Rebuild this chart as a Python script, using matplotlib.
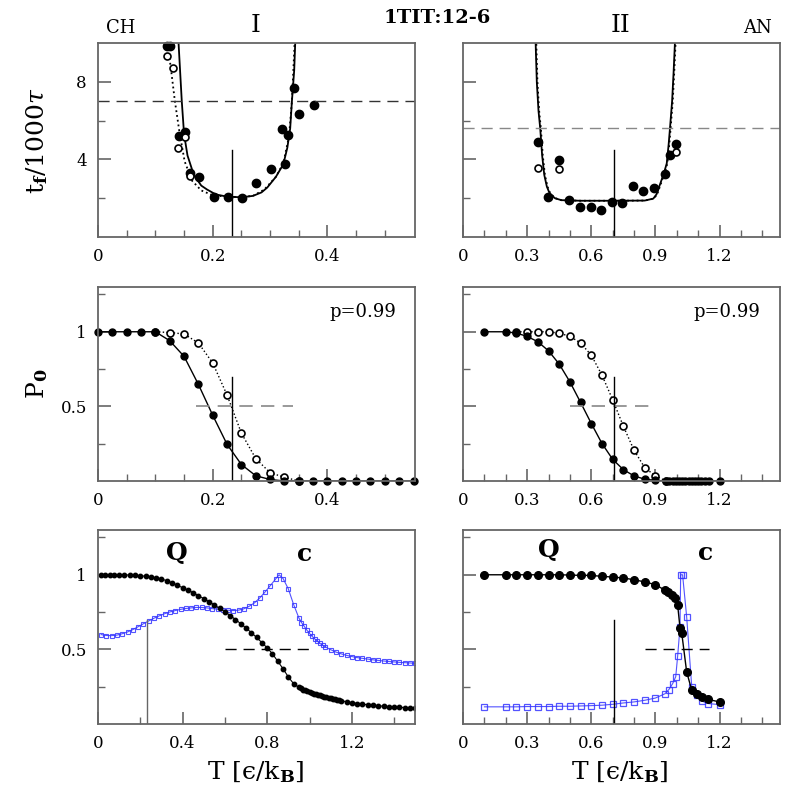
import matplotlib
matplotlib.use("Agg")
import matplotlib.pyplot as plt

plt.rcParams["font.family"] = ["DejaVu Serif"]
plt.rcParams["mathtext.fontset"] = "dejavuserif"

# ---- top row: folding time t_f / 1000 tau ----
tf1_full_T = [0.120, 0.125, 0.141, 0.151, 0.161, 0.176, 0.202, 0.227, 0.251, 0.276,
              0.301, 0.321, 0.326, 0.332, 0.341, 0.351, 0.377]
tf1_full = [9.85, 9.85, 5.22, 5.40, 3.28, 3.10, 2.08, 2.08, 2.00, 2.78,
            3.49, 5.55, 3.75, 5.26, 7.68, 6.34, 6.80]
tf1_open_T = [0.120, 0.131, 0.140, 0.151, 0.160]
tf1_open = [9.33, 8.70, 4.60, 5.14, 3.16]
tf1_fit_T = [0.140, 0.146, 0.150, 0.156, 0.167, 0.180, 0.190, 0.205, 0.225, 0.250,
             0.270, 0.285, 0.295, 0.310, 0.323, 0.330, 0.335, 0.338, 0.342, 0.344]
tf1_fit = [10.2, 7.0, 5.3, 4.2, 3.2, 2.65, 2.45, 2.2, 2.08, 2.05,
           2.12, 2.3, 2.55, 3.1, 3.75, 4.6, 5.6, 7.0, 8.6, 10.2]
tf1_dot_T = [0.120, 0.127, 0.134, 0.142, 0.151, 0.164, 0.180, 0.200, 0.225, 0.250,
             0.270, 0.290, 0.310, 0.323, 0.333, 0.338, 0.343]
tf1_dot = [10.2, 8.7, 7.0, 5.4, 3.9, 2.9, 2.4, 2.15, 2.08, 2.06,
           2.12, 2.45, 3.1, 3.8, 5.2, 7.0, 10.2]
tf1_ref = 7.0

tf2_full_T = [0.352, 0.399, 0.449, 0.497, 0.547, 0.597, 0.646, 0.696, 0.745, 0.794,
              0.844, 0.895, 0.946, 0.969, 0.997]
tf2_full = [4.91, 2.08, 3.97, 1.91, 1.53, 1.53, 1.39, 1.80, 1.73, 2.63,
            2.39, 2.54, 3.23, 4.21, 4.78]
tf2_open_T = [0.349, 0.449, 0.997]
tf2_open = [3.57, 3.50, 4.40]
tf2_fit_T = [0.339, 0.345, 0.353, 0.361, 0.370, 0.380, 0.392, 0.405, 0.430, 0.460,
             0.550, 0.700, 0.850, 0.890, 0.905, 0.921, 0.940, 0.953, 0.962, 0.968,
             0.978, 0.985, 0.992]
tf2_fit = [10.2, 8.0, 6.5, 5.6, 4.2, 3.2, 2.6, 2.25, 2.0, 1.9,
           1.87, 1.87, 1.88, 1.98, 2.2, 2.7, 3.3, 3.8, 4.8, 5.6,
           7.0, 8.5, 10.2]
tf2_dot_T = [0.342, 0.348, 0.356, 0.364, 0.373, 0.383, 0.395, 0.408, 0.432, 0.460,
             0.550, 0.700, 0.850, 0.892, 0.908, 0.924, 0.943, 0.956, 0.965, 0.971,
             0.981, 0.988, 0.995]
tf2_dot = [10.2, 8.0, 6.5, 5.6, 4.2, 3.2, 2.6, 2.25, 2.0, 1.9,
           1.87, 1.87, 1.88, 1.98, 2.2, 2.7, 3.3, 3.8, 4.8, 5.6,
           7.0, 8.5, 10.2]
tf2_ref = 5.6

# ---- middle row: P0 ----
p1_T = [0.0, 0.025, 0.05, 0.075, 0.1, 0.125, 0.15, 0.175, 0.2, 0.225, 0.25, 0.275,
        0.3, 0.325, 0.35, 0.375, 0.4, 0.425, 0.45, 0.475, 0.5, 0.525, 0.55]
p1_full = [1.0, 1.0, 1.0, 1.0, 1.0, 0.94, 0.835, 0.647, 0.44, 0.245, 0.11, 0.035,
           0.01, 0.0, 0.0, 0.0, 0.0, 0.0, 0.0, 0.0, 0.0, 0.0, 0.0]
p1_open_T = [0.1, 0.125, 0.15, 0.175, 0.2, 0.225, 0.25, 0.275, 0.3, 0.325, 0.35]
p1_open = [1.0, 0.995, 0.985, 0.925, 0.79, 0.575, 0.32, 0.15, 0.055, 0.025, 0.0]

p2_T = [0.1, 0.2, 0.25, 0.3, 0.35, 0.4, 0.45, 0.5, 0.55, 0.6, 0.65, 0.7, 0.75, 0.8,
        0.85, 0.9, 0.95, 0.965, 0.98, 0.995, 1.01, 1.025, 1.04, 1.055, 1.07, 1.085,
        1.1, 1.115, 1.13, 1.15, 1.2]
p2_full = [1.0, 1.0, 0.991, 0.969, 0.933, 0.872, 0.783, 0.664, 0.526, 0.385, 0.251,
           0.145, 0.076, 0.034, 0.012, 0.004, 0.0, 0.0, 0.0, 0.0, 0.0, 0.0, 0.0, 0.0,
           0.0, 0.0, 0.0, 0.0, 0.0, 0.0, 0.0]
p2_open_T = [0.25, 0.3, 0.35, 0.4, 0.45, 0.5, 0.55, 0.6, 0.65, 0.7, 0.75, 0.8, 0.85, 0.9, 0.95]
p2_open = [1.0, 1.0, 1.0, 1.0, 0.99, 0.97, 0.924, 0.843, 0.709, 0.544, 0.367, 0.206,
           0.089, 0.034, 0.0]

# ---- bottom row: Q and specific heat c ----
q1_T = [0.015, 0.035, 0.055, 0.075, 0.1, 0.125, 0.15, 0.175, 0.2, 0.225, 0.25, 0.275, 0.3,
        0.325, 0.35, 0.375, 0.4, 0.425, 0.45, 0.475, 0.5, 0.525, 0.55, 0.575, 0.6,
        0.625, 0.65, 0.675, 0.7, 0.725, 0.75, 0.775, 0.8, 0.825, 0.85, 0.875, 0.9,
        0.925, 0.95, 0.96, 0.97, 0.98, 0.99, 1.0, 1.01, 1.02, 1.03, 1.04, 1.05, 1.06,
        1.07, 1.08, 1.09, 1.1, 1.11, 1.12, 1.13, 1.14, 1.15, 1.175, 1.2, 1.225, 1.25,
        1.275, 1.3, 1.325, 1.35, 1.375, 1.4, 1.425, 1.45, 1.475, 1.5]
q1 = [1.0, 1.0, 1.0, 1.0, 1.0, 0.999, 0.998, 0.996, 0.993, 0.99, 0.985, 0.98, 0.972,
      0.96, 0.946, 0.93, 0.913, 0.897, 0.88, 0.86, 0.84, 0.82, 0.798, 0.775, 0.752,
      0.727, 0.70, 0.672, 0.643, 0.612, 0.58, 0.545, 0.51, 0.47, 0.42, 0.37, 0.315,
      0.27, 0.245, 0.238, 0.231, 0.225, 0.219, 0.214, 0.209, 0.204, 0.199, 0.195,
      0.191, 0.187, 0.183, 0.179, 0.175, 0.172, 0.168, 0.165, 0.162, 0.159, 0.156,
      0.149, 0.143, 0.137, 0.133, 0.129, 0.125, 0.122, 0.119, 0.116, 0.114, 0.112,
      0.110, 0.108, 0.106]
c1_T = [0.015, 0.04, 0.065, 0.09, 0.115, 0.14, 0.165, 0.19, 0.215, 0.24, 0.265, 0.29,
        0.315, 0.34, 0.365, 0.39, 0.415, 0.44, 0.465, 0.49, 0.515, 0.54, 0.565, 0.59,
        0.615, 0.64, 0.665, 0.69, 0.715, 0.74, 0.765, 0.79, 0.815, 0.84, 0.856, 0.875,
        0.9, 0.925, 0.95, 0.962, 0.975, 0.987, 1.0, 1.012, 1.025, 1.037, 1.05, 1.062,
        1.075, 1.1, 1.125, 1.15, 1.175, 1.2, 1.225, 1.25, 1.275, 1.3, 1.325, 1.35,
        1.375, 1.4, 1.425, 1.45, 1.475, 1.5]
c1 = [0.599, 0.593, 0.592, 0.596, 0.605, 0.617, 0.633, 0.652, 0.672, 0.691, 0.709,
      0.725, 0.739, 0.751, 0.76, 0.768, 0.774, 0.778, 0.781, 0.781, 0.778, 0.773,
      0.769, 0.765, 0.762, 0.76, 0.763, 0.772, 0.789, 0.812, 0.845, 0.885, 0.928,
      0.972, 1.0, 0.975, 0.905, 0.8, 0.71, 0.68, 0.655, 0.63, 0.607, 0.588, 0.57,
      0.555, 0.54, 0.528, 0.517, 0.498, 0.482, 0.47, 0.46, 0.452, 0.445, 0.44, 0.435,
      0.43, 0.426, 0.422, 0.419, 0.416, 0.413, 0.411, 0.409, 0.407]

q2_T = [0.1, 0.2, 0.25, 0.3, 0.35, 0.4, 0.45, 0.5, 0.55, 0.6, 0.65, 0.7, 0.75, 0.8,
        0.85, 0.9, 0.945, 0.96, 0.976, 0.992, 1.004, 1.015, 1.023, 1.046, 1.07, 1.093,
        1.12, 1.145, 1.2]
q2 = [1.0, 1.0, 1.0, 1.0, 1.0, 1.0, 1.0, 0.998, 0.996, 0.996, 0.989, 0.985, 0.978,
      0.967, 0.952, 0.934, 0.896, 0.885, 0.863, 0.841, 0.797, 0.643, 0.61, 0.35,
      0.225, 0.203, 0.181, 0.165, 0.148]
c2_T = [0.1, 0.2, 0.25, 0.3, 0.35, 0.4, 0.45, 0.5, 0.55, 0.6, 0.65, 0.7, 0.75, 0.8,
        0.85, 0.9, 0.945, 0.963, 0.98, 0.995, 1.004, 1.015, 1.018, 1.027, 1.046, 1.07,
        1.093, 1.12, 1.145, 1.2]
c2 = [0.115, 0.115, 0.115, 0.117, 0.117, 0.117, 0.119, 0.119, 0.121, 0.123, 0.126,
      0.132, 0.141, 0.148, 0.159, 0.174, 0.203, 0.231, 0.269, 0.317, 0.456, 0.65,
      1.0, 1.0, 0.72, 0.247, 0.192, 0.152, 0.137, 0.13]

T_trans = [0.233, 0.708]
p_text = "p=0.99"

left_xt = [0, 0.2, 0.4]
left_xtl = ["0", "0.2", "0.4"]
bl_xt = [0, 0.4, 0.8, 1.2]
bl_xtl = ["0", "0.4", "0.8", "1.2"]
right_xt = [0, 0.3, 0.6, 0.9, 1.2]
right_xtl = ["0", "0.3", "0.6", "0.9", "1.2"]

BLUE = "#3535ff"
FRAME = "#666666"


def style_axes(ax, xlim, ylim, xt, xtl, xminor, yt, ytl, yminor, show_y):
    ax.set_xlim(*xlim)
    ax.set_ylim(*ylim)
    ax.set_xticks(xt)
    ax.set_xticklabels(xtl)
    ax.set_xticks(xminor, minor=True)
    ax.set_yticks(yt)
    ax.set_yticklabels(ytl if show_y else [])
    ax.set_yticks(yminor, minor=True)
    ax.tick_params(which="both", direction="in", top=False, right=False,
                   color=FRAME, labelsize=12, pad=8)
    ax.tick_params(which="major", length=9, width=1.2)
    ax.tick_params(which="minor", length=5, width=1.0)
    for s in ax.spines.values():
        s.set_color(FRAME)
        s.set_linewidth(1.3)


def main() -> None:
    fig = plt.figure(figsize=(7.97, 7.97), dpi=100)
    cols = [0.123, 0.581]
    rows = [0.7026, 0.3965, 0.0916]
    w, h = 0.398, 0.2434
    axs = [[fig.add_axes([c, r, w, h]) for c in cols] for r in rows]

    # top row
    ax = axs[0][0]
    ax.plot(tf1_fit_T, tf1_fit, color="black", lw=1.3)
    ax.plot(tf1_dot_T, tf1_dot, color="black", lw=1.3, ls=":")
    ax.plot(tf1_full_T, tf1_full, "o", color="black", ms=6, clip_on=False)
    ax.plot(tf1_open_T, tf1_open, "o", mfc="white", mec="black", ms=5, mew=1.2, clip_on=False)
    ax.axhline(tf1_ref, color="#333333", lw=1, dashes=(8, 5))
    ax.plot([T_trans[0], T_trans[0]], [0, 4.5], color="black", lw=1)
    style_axes(ax, (0, 0.553), (0, 10), left_xt, left_xtl,
               [0.05, 0.1, 0.15, 0.25, 0.3, 0.35, 0.45, 0.5], [4, 8], ["4", "8"], [2, 6], True)

    ax = axs[0][1]
    ax.plot(tf2_fit_T, tf2_fit, color="black", lw=1.3)
    ax.plot(tf2_dot_T, tf2_dot, color="black", lw=1.3, ls=":")
    ax.plot(tf2_full_T, tf2_full, "o", color="black", ms=6, clip_on=False)
    ax.plot(tf2_open_T, tf2_open, "o", mfc="white", mec="black", ms=5, mew=1.2, clip_on=False)
    ax.axhline(tf2_ref, color="#888888", lw=1, dashes=(8, 5))
    ax.plot([T_trans[1], T_trans[1]], [0, 4.5], color="black", lw=1)
    style_axes(ax, (0, 1.484), (0, 10), right_xt, right_xtl,
               [0.1, 0.2, 0.4, 0.5, 0.7, 0.8, 1.0, 1.1, 1.3, 1.4], [4, 8], [], [2, 6], False)

    # middle row
    ax = axs[1][0]
    ax.plot(p1_open_T, p1_open, color="black", lw=1, ls=":")
    ax.plot(p1_T, p1_full, color="black", lw=1)
    ax.plot(p1_open_T, p1_open, "o", mfc="white", mec="black", ms=5, mew=1.2, clip_on=False)
    ax.plot(p1_T, p1_full, "o", color="black", ms=5, clip_on=False)
    ax.plot([0.17, 0.34], [0.5, 0.5], color="#888888", lw=1.2, dashes=(8, 5))
    ax.plot([T_trans[0], T_trans[0]], [0, 0.7], color="black", lw=1)
    ax.text(0.836, 0.87, p_text, transform=ax.transAxes, ha="center", va="center", fontsize=13)
    style_axes(ax, (0, 0.553), (0, 1.3), left_xt, left_xtl,
               [0.05, 0.1, 0.15, 0.25, 0.3, 0.35, 0.45, 0.5], [0.5, 1], ["0.5", "1"],
               [0.25, 0.75, 1.25], True)

    ax = axs[1][1]
    ax.plot(p2_open_T, p2_open, color="black", lw=1, ls=":")
    ax.plot(p2_T, p2_full, color="black", lw=1)
    ax.plot(p2_open_T, p2_open, "o", mfc="white", mec="black", ms=5, mew=1.2, clip_on=False)
    ax.plot(p2_T, p2_full, "o", color="black", ms=5, clip_on=False)
    ax.plot([0.5, 0.9], [0.5, 0.5], color="#888888", lw=1.2, dashes=(8, 5))
    ax.plot([T_trans[1], T_trans[1]], [0, 0.7], color="black", lw=1)
    ax.text(0.833, 0.87, p_text, transform=ax.transAxes, ha="center", va="center", fontsize=13)
    style_axes(ax, (0, 1.484), (0, 1.3), right_xt, right_xtl,
               [0.1, 0.2, 0.4, 0.5, 0.7, 0.8, 1.0, 1.1, 1.3, 1.4], [0.5, 1], [],
               [0.25, 0.75, 1.25], False)

    # bottom row
    ax = axs[2][0]
    ax.plot(c1_T, c1, "s-", color=BLUE, lw=0.8, ms=3.2, mfc="none", mew=0.8, alpha=0.85)
    ax.plot(q1_T, q1, "o-", color="black", lw=0.8, ms=3.2)
    ax.plot([0.6, 1.0], [0.5, 0.5], color="black", lw=1, dashes=(8, 5))
    ax.plot([T_trans[0], T_trans[0]], [0, 0.7], color="#666666", lw=1)
    ax.text(0.25, 0.88, "Q", transform=ax.transAxes, ha="center", va="center",
            fontsize=18, fontweight="bold")
    ax.text(0.65, 0.875, "c", transform=ax.transAxes, ha="center", va="center",
            fontsize=18, fontweight="bold")
    style_axes(ax, (0, 1.5), (0, 1.3), bl_xt, bl_xtl, [0.2, 0.6, 1.0, 1.4],
               [0.5, 1], ["0.5", "1"], [0.25, 0.75, 1.25], True)

    ax = axs[2][1]
    ax.plot(c2_T, c2, "s-", color=BLUE, lw=0.8, ms=4.5, mfc="none", mew=0.9, alpha=0.85)
    ax.plot(q2_T, q2, "o-", color="black", lw=1, ms=5.5)
    ax.plot([0.85, 1.15], [0.5, 0.5], color="black", lw=1, dashes=(8, 5))
    ax.plot([T_trans[1], T_trans[1]], [0, 0.7], color="black", lw=1)
    ax.text(0.27, 0.895, "Q", transform=ax.transAxes, ha="center", va="center",
            fontsize=18, fontweight="bold")
    ax.text(0.763, 0.88, "c", transform=ax.transAxes, ha="center", va="center",
            fontsize=18, fontweight="bold")
    style_axes(ax, (0, 1.484), (0, 1.3), right_xt, right_xtl,
               [0.1, 0.2, 0.4, 0.5, 0.7, 0.8, 1.0, 1.1, 1.3, 1.4], [0.5, 1], [],
               [0.25, 0.75, 1.25], False)

    # figure texts
    fig.text(0.151, 0.965, "CH", ha="center", va="center", fontsize=13)
    fig.text(0.321, 0.968, "I", ha="center", va="center", fontsize=18)
    fig.text(0.548, 0.977, "1TIT:12-6", ha="center", va="center", fontsize=14, fontweight="bold")
    fig.text(0.778, 0.968, "II", ha="center", va="center", fontsize=18)
    fig.text(0.950, 0.965, "AN", ha="center", va="center", fontsize=13)
    fig.text(0.046, 0.824, r"t$_\mathbf{f}$/1000$\tau$", rotation=90, ha="center",
             va="center", fontsize=18)
    fig.text(0.046, 0.519, r"P$_\mathbf{0}$", rotation=90, ha="center", va="center", fontsize=18)
    for x in (0.321, 0.778):
        fig.text(x, 0.031, "T [\u03f5/k$_\\mathbf{B}$]", ha="center", va="center", fontsize=18)

    fig.savefig("out.png", dpi=100)
    plt.close(fig)


if __name__ == "__main__":
    main()
